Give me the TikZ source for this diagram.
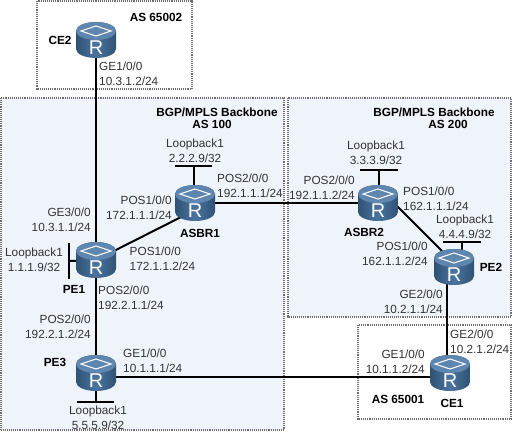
\documentclass[tikz,border=0pt]{standalone}
\usepackage{fontspec}
\setmainfont{Liberation Sans}
\definecolor{regionfill}{HTML}{EFF4FB}
\definecolor{regionedge}{HTML}{6E6E6E}
\definecolor{labelgrey}{HTML}{333333}
\definecolor{rdark}{HTML}{2F5274}
\definecolor{rmid}{HTML}{4A749F}
\definecolor{rtop}{HTML}{5F86AF}
\tikzset{
  region/.style={draw=regionedge,line width=1.1pt,dash pattern=on 1pt off 0.9pt},
  regionplain/.style={region,fill=regionfill},
  link/.style={draw=black,line width=2pt},
  routerbox/.style={minimum width=40pt,minimum height=36pt,inner sep=0pt,outer sep=0pt},
  lbl/.style={font=\fontsize{11.8}{14.6}\selectfont,text=labelgrey,inner sep=0pt},
  lblL/.style={lbl,align=left,anchor=west},
  lblR/.style={lbl,align=right,anchor=east},
  lblC/.style={lbl,align=center},
  tag/.style={font=\fontsize{11.8}{14}\bfseries\selectfont,text=black,inner sep=0pt}
}
\newcommand{\routerpic}[1]{%
  \begin{scope}[shift={(#1.center)}]
    \shade[left color=rdark,right color=rdark,middle color=rmid]
      (-20,-9) -- (-20,9) arc[start angle=180,end angle=0,x radius=20,y radius=9] -- (20,-9)
      arc[start angle=0,end angle=-180,x radius=20,y radius=9] -- cycle;
    \fill[rtop] (0,-9) ellipse[x radius=20,y radius=9];
    \draw[white,line width=1pt] (-15,-9) -- (0,-14) -- (15,-9) -- (0,-4) -- cycle;
    \node[font=\fontsize{20}{20}\selectfont,text=white,inner sep=0pt] (#1r) at (0,8) {R};
  \end{scope}}
\begin{document}
\begin{tikzpicture}[x=1pt,y=-1pt]
\useasboundingbox[fill=white] (0,0) rectangle (512,433);
% regions
\draw[regionplain] (1,98) rectangle (284,430);
\draw[regionplain] (288,98) rectangle (511,317);
\draw[region] (37,1) rectangle (192,89);
\draw[region] (358,325) rectangle (511,419);
% routers (positions)
\node[routerbox] (ce2) at (96,40) {};
\node[routerbox] (pe1) at (96,260) {};
\node[routerbox] (asbr1) at (195,203) {};
\node[routerbox] (asbr2) at (378,203) {};
\node[routerbox] (pe2) at (454,267) {};
\node[routerbox] (pe3) at (96,373) {};
\node[routerbox] (ce1) at (450,373) {};
% loopback stubs
\coordinate (l1) at (69,261);
\coordinate (l1a) at (69,243);
\coordinate (l1b) at (69,279);
\coordinate (l2) at (194,166);
\coordinate (l2a) at (175,166);
\coordinate (l2b) at (212,166);
\coordinate (l3) at (379,170);
\coordinate (l3a) at (360,170);
\coordinate (l3b) at (398,170);
\coordinate (l4) at (462,242);
\coordinate (l4a) at (443,242);
\coordinate (l4b) at (481,242);
\coordinate (l5) at (96,402);
\coordinate (l5a) at (77,402);
\coordinate (l5b) at (114,402);
% connectors
\draw[link] (ce2.center) -- (pe1.center);
\draw[link] (pe1.center) -- (pe3.center);
\draw[link] (pe1.center) -- ([yshift=-7pt]asbr1.center);
\draw[link] (asbr1.center) -- (asbr2.center);
\draw[link] ([yshift=16pt]asbr2.center) -- ([yshift=4pt]pe2.center);
\draw[link] ([xshift=-7pt]pe2.center) -- ([xshift=-3pt]ce1.center);
\draw[link] ([yshift=-3.5pt]pe3.center) -- ([yshift=-3.5pt]ce1.center);
\draw[link] (pe1.center) -- (l1);
\draw[link] (l1a) -- (l1b);
\draw[link] (l2) -- (l2 |- asbr1.center);
\draw[link] (l2a) -- (l2b);
\draw[link] (l3) -- (l3 |- asbr2.center);
\draw[link] (l3a) -- (l3b);
\draw[link] (l4) -- (l4 |- pe2.center);
\draw[link] (l4a) -- (l4b);
\draw[link] (pe3.center) -- (l5);
\draw[link] (l5a) -- (l5b);
% router drawings
\routerpic{ce2}
\routerpic{pe1}
\routerpic{asbr1}
\routerpic{asbr2}
\routerpic{pe2}
\routerpic{pe3}
\routerpic{ce1}
% titles
\node[tag] (as65002) at (156,17) {AS 65002};
\node[tag] (as65001) at (398,399) {AS 65001};
\node[tag] (bb1) at (217,112) {BGP/MPLS Backbone};
\node[tag] (as100) at (212,124) {AS 100};
\node[tag] (bb2) at (434,112) {BGP/MPLS Backbone};
\node[tag] (as200) at (448,124) {AS 200};
% router names
\node[tag] (tce2) at (60,40) {CE2};
\node[tag] (tpe1) at (74,289) {PE1};
\node[tag] (tasbr1) at (200,233) {ASBR1};
\node[tag] (tasbr2) at (364,232) {ASBR2};
\node[tag] (tpe2) at (491,267) {PE2};
\node[tag] (tpe3) at (55,362) {PE3};
\node[tag] (tce1) at (452,403) {CE1};
% interface labels
\node[lblL] (a1) at (99,74) {GE1/0/0\\10.3.1.2/24};
\node[lblC] (a2) at (195,151) {Loopback1\\2.2.2.9/32};
\node[lblL] (a3) at (217,186) {POS2/0/0\\192.1.1.1/24};
\node[lblR] (a4) at (172,208) {POS1/0/0\\172.1.1.1/24};
\node[lblR] (a5) at (91,220) {GE3/0/0\\10.3.1.1/24};
\node[lblC] (a6) at (34,260) {Loopback1\\1.1.1.9/32};
\node[lblL] (a7) at (129.5,259) {POS1/0/0\\172.1.1.2/24};
\node[lblL] (a8) at (98,297.5) {POS2/0/0\\192.2.1.1/24};
\node[lblR] (a9) at (91,327) {POS2/0/0\\192.2.1.2/24};
\node[lblL] (a10) at (123,360.5) {GE1/0/0\\10.1.1.1/24};
\node[lblC] (a11) at (98,417.5) {Loopback1\\5.5.5.9/32};
\node[lblC] (b1) at (376,153) {Loopback1\\3.3.3.9/32};
\node[lblR] (b2) at (355,188) {POS2/0/0\\192.1.1.2/24};
\node[lblL] (b3) at (403,199) {POS1/0/0\\162.1.1.1/24};
\node[lblC] (b4) at (465,227) {Loopback1\\4.4.4.9/32};
\node[lblR] (b5) at (428,253.5) {POS1/0/0\\162.1.1.2/24};
\node[lblR] (b6) at (443,302) {GE2/0/0\\10.2.1.1/24};
\node[lblL] (b7) at (450,341.5) {GE2/0/0\\10.2.1.2/24};
\node[lblR] (b8) at (425,362) {GE1/0/0\\10.1.1.2/24};
\end{tikzpicture}
\end{document}
